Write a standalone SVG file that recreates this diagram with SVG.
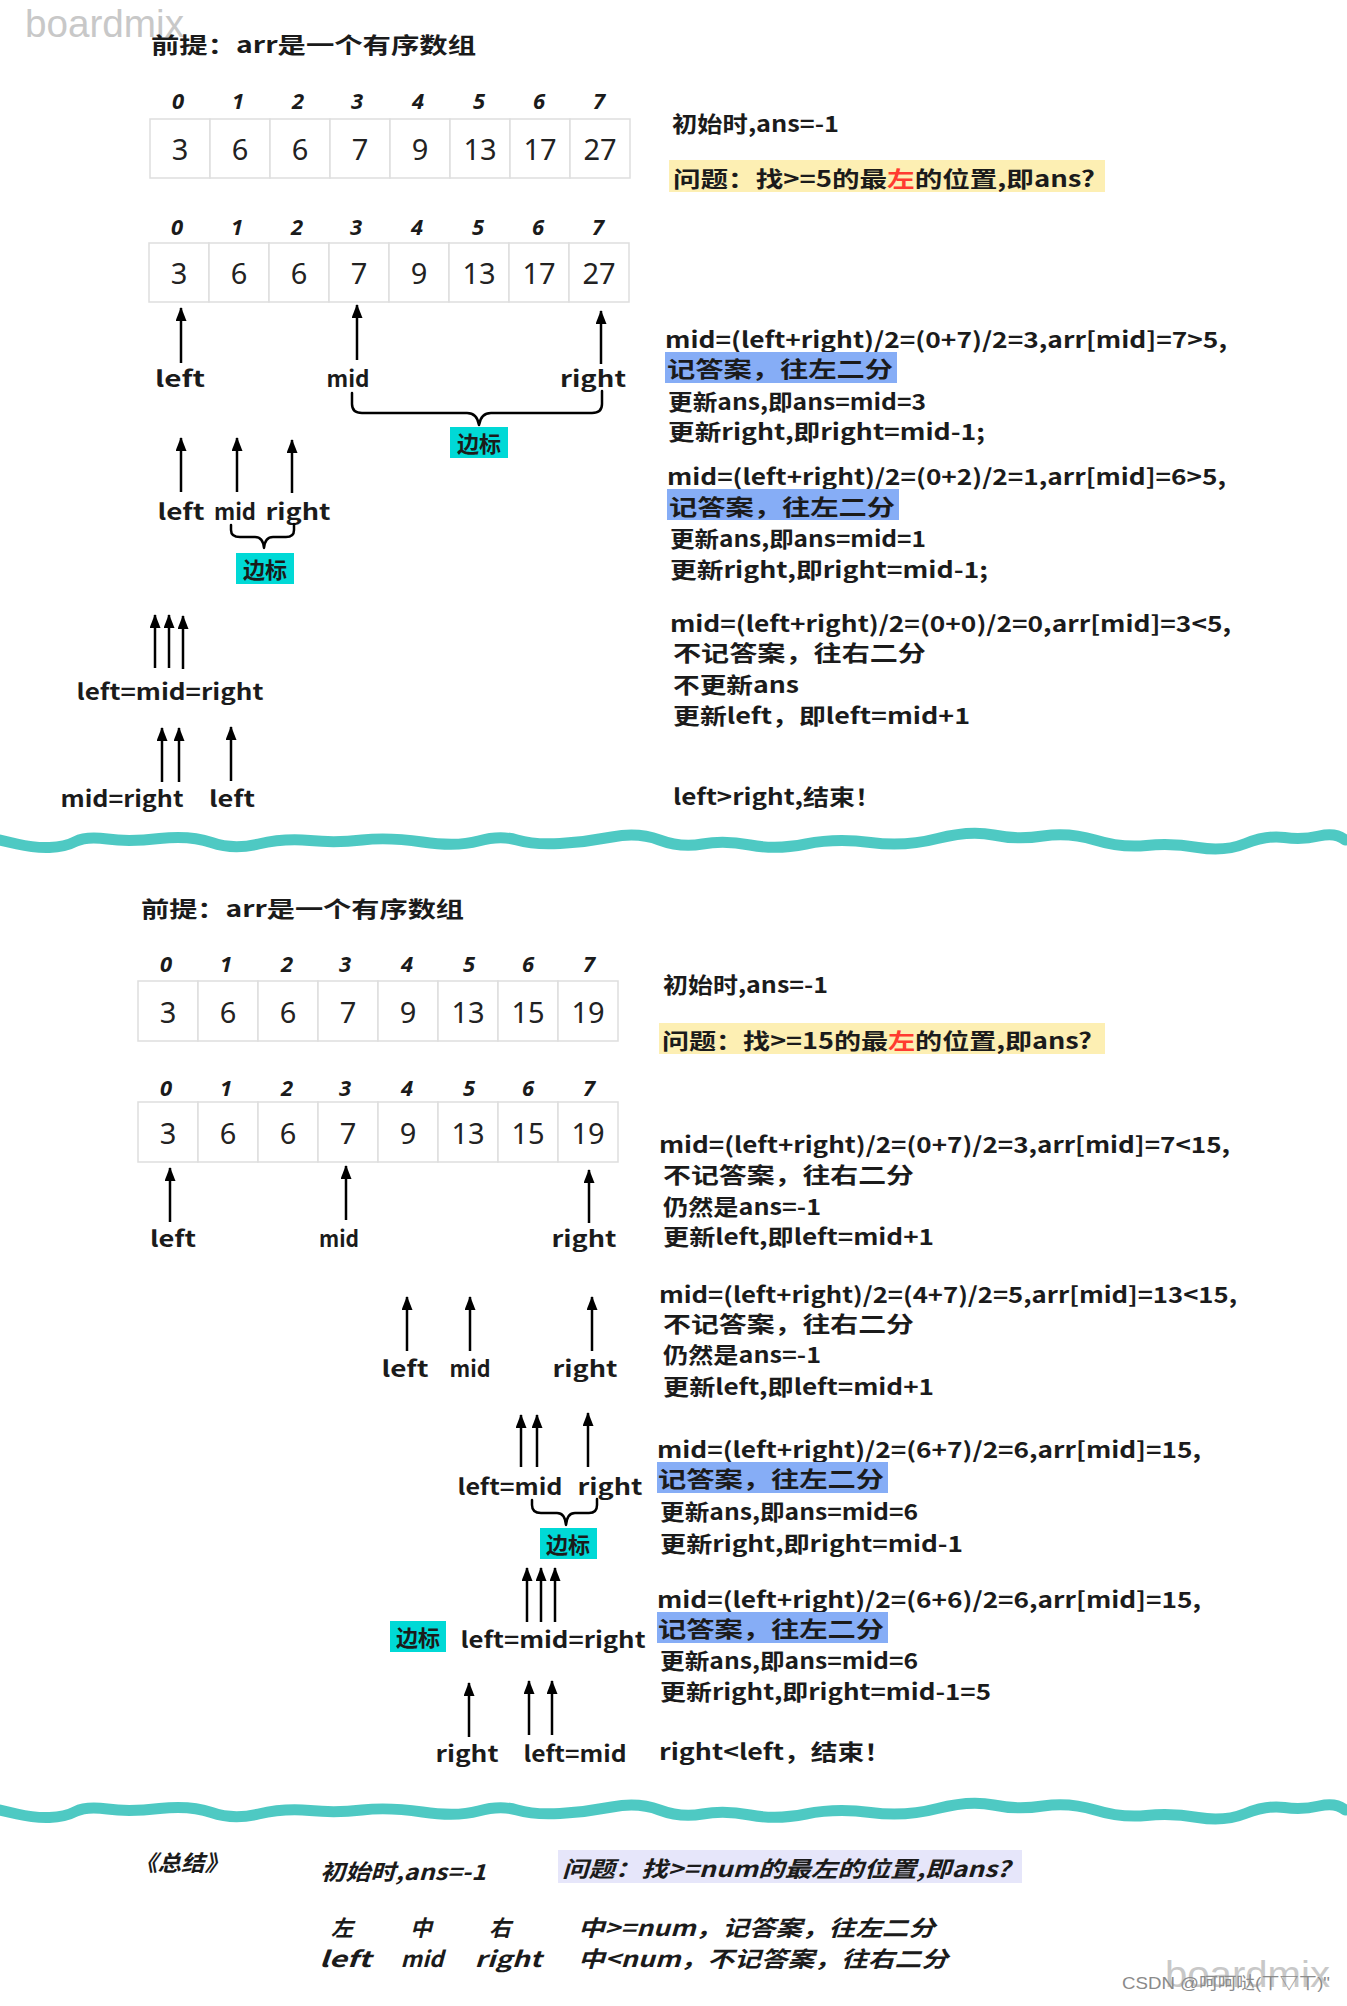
<svg xmlns="http://www.w3.org/2000/svg" width="1347" height="2006" viewBox="0 0 1347 2006">
<style>
.hw{font-family:"Noto Sans CJK SC","Noto Sans",sans-serif;font-weight:700;font-size:22px;fill:#1b1b1b;dominant-baseline:central}
.lbl{font-family:"Noto Sans CJK SC","Noto Sans",sans-serif;font-weight:700;font-size:22px;fill:#1b1b1b;dominant-baseline:central;text-anchor:middle}
.idx{font-family:"Noto Sans","Liberation Sans",sans-serif;font-weight:700;font-style:italic;font-size:22px;fill:#1b1b1b;dominant-baseline:central;text-anchor:middle}
.num{font-family:"Noto Sans","Liberation Sans",sans-serif;font-size:29px;fill:#222;dominant-baseline:central;text-anchor:middle}
.cell{fill:#fff;stroke:#dedede;stroke-width:1.5}
.sum{font-style:italic}
.ar{stroke:#000;stroke-width:2.5;fill:none;marker-end:url(#ah)}
.br{stroke:#000;stroke-width:2.5;fill:none;stroke-linecap:round;stroke-linejoin:round}
.cy{fill:#00d9d6}
.bl{fill:#86adf6}
.ye{fill:#fdefb3}
.red{fill:#ff3b30}
.wave{fill:none;stroke:#3fc4be;stroke-width:11;stroke-linecap:round;stroke-linejoin:round;opacity:.92}
.wm{font-family:"Liberation Sans",sans-serif;fill:#c8c8c8}
</style>
<defs>
<marker id="ah" markerUnits="userSpaceOnUse" markerWidth="15" markerHeight="12" refX="13" refY="5.5" orient="auto">
<path d="M0,0 L14,5.5 L0,11 z" fill="#000"/>
</marker>
<path id="wv" class="wave" d="M0,840 L17,844 Q34,848 49.5,847.5 Q65,847 75.5,841.5 Q86,836 107.5,839 Q129,842 159.5,838.5 Q190,835 211.5,842.5 Q233,850 258.5,844 Q284,838 310,840.5 Q336,843 362,840 Q388,837 422.5,842 Q457,847 478.5,841 Q500,835 517,840 Q534,845 560,843.5 Q586,842 612,837 Q638,832 659.5,840 Q681,848 702.5,844 Q724,840 750,845 Q776,850 806,844 Q836,838 870.5,842.5 Q905,847 937.5,838.5 Q970,830 993.5,835 Q1017,840 1043,836 Q1069,832 1095,840 Q1121,848 1146.5,845.5 Q1172,843 1198,847.5 Q1224,852 1245.5,843.5 Q1267,835 1284.5,837.5 Q1302,840 1319,836 Q1336,832 1345,840"/>
</defs>
<rect width="1347" height="2006" fill="#fff"/>

<text class="wm" x="25" y="37" font-size="38" textLength="159" lengthAdjust="spacingAndGlyphs">boardmix</text>

<!-- ===== Section 1 ===== -->
<g id="title1"><text class="hw" x="151" y="43" font-size="24" textLength="325" lengthAdjust="spacingAndGlyphs">前提：arr是一个有序数组</text></g>

<g id="array1">
<text class="idx" x="178" y="100">0</text><text class="idx" x="238" y="100">1</text><text class="idx" x="298" y="100">2</text><text class="idx" x="357" y="100">3</text><text class="idx" x="418" y="100">4</text><text class="idx" x="479" y="100">5</text><text class="idx" x="539" y="100">6</text><text class="idx" x="599" y="100">7</text>
<rect class="cell" x="150" y="119" width="60" height="59"/><rect class="cell" x="210" y="119" width="60" height="59"/><rect class="cell" x="270" y="119" width="60" height="59"/><rect class="cell" x="330" y="119" width="60" height="59"/><rect class="cell" x="390" y="119" width="60" height="59"/><rect class="cell" x="450" y="119" width="60" height="59"/><rect class="cell" x="510" y="119" width="60" height="59"/><rect class="cell" x="570" y="119" width="60" height="59"/>
<text class="num" x="180" y="148">3</text><text class="num" x="240" y="148">6</text><text class="num" x="300" y="148">6</text><text class="num" x="360" y="148">7</text><text class="num" x="420" y="148">9</text><text class="num" x="480" y="148">13</text><text class="num" x="540" y="148">17</text><text class="num" x="600" y="148">27</text>
</g>

<g id="array2">
<text class="idx" x="177" y="226">0</text><text class="idx" x="237" y="226">1</text><text class="idx" x="297" y="226">2</text><text class="idx" x="356" y="226">3</text><text class="idx" x="417" y="226">4</text><text class="idx" x="478" y="226">5</text><text class="idx" x="538" y="226">6</text><text class="idx" x="598" y="226">7</text>
<rect class="cell" x="149" y="243" width="60" height="59"/><rect class="cell" x="209" y="243" width="60" height="59"/><rect class="cell" x="269" y="243" width="60" height="59"/><rect class="cell" x="329" y="243" width="60" height="59"/><rect class="cell" x="389" y="243" width="60" height="59"/><rect class="cell" x="449" y="243" width="60" height="59"/><rect class="cell" x="509" y="243" width="60" height="59"/><rect class="cell" x="569" y="243" width="60" height="59"/>
<text class="num" x="179" y="272">3</text><text class="num" x="239" y="272">6</text><text class="num" x="299" y="272">6</text><text class="num" x="359" y="272">7</text><text class="num" x="419" y="272">9</text><text class="num" x="479" y="272">13</text><text class="num" x="539" y="272">17</text><text class="num" x="599" y="272">27</text>
</g>

<g id="labels1a">
<text class="lbl" x="180" y="377" textLength="50" lengthAdjust="spacingAndGlyphs">left</text>
<text class="lbl" x="348" y="377" textLength="43" lengthAdjust="spacingAndGlyphs">mid</text>
<text class="lbl" x="593" y="377" textLength="66" lengthAdjust="spacingAndGlyphs">right</text>
</g>
<g id="tag1"><rect class="cy" x="450" y="427" width="58" height="31"/><text class="lbl" x="479" y="442">边标</text></g>

<g id="labels1b">
<text class="lbl" x="181" y="510" textLength="47" lengthAdjust="spacingAndGlyphs">left</text>
<text class="lbl" x="235" y="510" textLength="42" lengthAdjust="spacingAndGlyphs">mid</text>
<text class="lbl" x="298" y="510" textLength="65" lengthAdjust="spacingAndGlyphs">right</text>
</g>
<g id="tag2"><rect class="cy" x="236" y="553" width="58" height="31"/><text class="lbl" x="265" y="568">边标</text></g>

<g id="labels1c"><text class="lbl" x="170" y="690" textLength="187" lengthAdjust="spacingAndGlyphs">left=mid=right</text></g>
<g id="labels1d">
<text class="lbl" x="122" y="797" textLength="123" lengthAdjust="spacingAndGlyphs">mid=right</text>
<text class="lbl" x="232" y="797" textLength="46" lengthAdjust="spacingAndGlyphs">left</text>
</g>

<g id="notes1">
<text class="hw" x="672" y="122" textLength="167" lengthAdjust="spacingAndGlyphs">初始时,ans=-1</text>
<rect class="ye" x="669" y="160" width="436" height="32"/>
<text class="hw" x="673" y="177" textLength="422" lengthAdjust="spacingAndGlyphs">问题：找&gt;=5的最<tspan class="red">左</tspan>的位置,即ans?</text>
<text class="hw" x="665" y="338" textLength="562" lengthAdjust="spacingAndGlyphs">mid=(left+right)/2=(0+7)/2=3,arr[mid]=7&gt;5,</text>
<rect class="bl" x="665" y="352" width="232" height="31"/>
<text class="hw" x="667" y="367" textLength="226" lengthAdjust="spacingAndGlyphs">记答案，往左二分</text>
<text class="hw" x="668" y="400" textLength="258" lengthAdjust="spacingAndGlyphs">更新ans,即ans=mid=3</text>
<text class="hw" x="668" y="430" textLength="317" lengthAdjust="spacingAndGlyphs">更新right,即right=mid-1;</text>

<text class="hw" x="667" y="475" textLength="559" lengthAdjust="spacingAndGlyphs">mid=(left+right)/2=(0+2)/2=1,arr[mid]=6&gt;5,</text>
<rect class="bl" x="667" y="489" width="232" height="31"/>
<text class="hw" x="669" y="505" textLength="226" lengthAdjust="spacingAndGlyphs">记答案，往左二分</text>
<text class="hw" x="670" y="537" textLength="256" lengthAdjust="spacingAndGlyphs">更新ans,即ans=mid=1</text>
<text class="hw" x="670" y="568" textLength="318" lengthAdjust="spacingAndGlyphs">更新right,即right=mid-1;</text>

<text class="hw" x="670" y="622" textLength="561" lengthAdjust="spacingAndGlyphs">mid=(left+right)/2=(0+0)/2=0,arr[mid]=3&lt;5,</text>
<text class="hw" x="673" y="651" textLength="253" lengthAdjust="spacingAndGlyphs">不记答案，往右二分</text>
<text class="hw" x="673" y="683" textLength="126" lengthAdjust="spacingAndGlyphs">不更新ans</text>
<text class="hw" x="673" y="714" textLength="297" lengthAdjust="spacingAndGlyphs">更新left，即left=mid+1</text>
<text class="hw" x="673" y="795" textLength="208" lengthAdjust="spacingAndGlyphs">left&gt;right,结束！</text>
</g>

<g id="divider1"><use href="#wv"/></g>

<!-- ===== Section 2 ===== -->
<g id="title2"><text class="hw" x="141" y="907" font-size="24" textLength="323" lengthAdjust="spacingAndGlyphs">前提：arr是一个有序数组</text></g>

<g id="array3">
<text class="idx" x="166" y="963">0</text><text class="idx" x="226" y="963">1</text><text class="idx" x="287" y="963">2</text><text class="idx" x="345" y="963">3</text><text class="idx" x="407" y="963">4</text><text class="idx" x="469" y="963">5</text><text class="idx" x="528" y="963">6</text><text class="idx" x="589" y="963">7</text>
<rect class="cell" x="138" y="981" width="60" height="60"/><rect class="cell" x="198" y="981" width="60" height="60"/><rect class="cell" x="258" y="981" width="60" height="60"/><rect class="cell" x="318" y="981" width="60" height="60"/><rect class="cell" x="378" y="981" width="60" height="60"/><rect class="cell" x="438" y="981" width="60" height="60"/><rect class="cell" x="498" y="981" width="60" height="60"/><rect class="cell" x="558" y="981" width="60" height="60"/>
<text class="num" x="168" y="1011">3</text><text class="num" x="228" y="1011">6</text><text class="num" x="288" y="1011">6</text><text class="num" x="348" y="1011">7</text><text class="num" x="408" y="1011">9</text><text class="num" x="468" y="1011">13</text><text class="num" x="528" y="1011">15</text><text class="num" x="588" y="1011">19</text>
</g>

<g id="array4">
<text class="idx" x="166" y="1087">0</text><text class="idx" x="226" y="1087">1</text><text class="idx" x="287" y="1087">2</text><text class="idx" x="345" y="1087">3</text><text class="idx" x="407" y="1087">4</text><text class="idx" x="469" y="1087">5</text><text class="idx" x="528" y="1087">6</text><text class="idx" x="589" y="1087">7</text>
<rect class="cell" x="138" y="1102" width="60" height="60"/><rect class="cell" x="198" y="1102" width="60" height="60"/><rect class="cell" x="258" y="1102" width="60" height="60"/><rect class="cell" x="318" y="1102" width="60" height="60"/><rect class="cell" x="378" y="1102" width="60" height="60"/><rect class="cell" x="438" y="1102" width="60" height="60"/><rect class="cell" x="498" y="1102" width="60" height="60"/><rect class="cell" x="558" y="1102" width="60" height="60"/>
<text class="num" x="168" y="1132">3</text><text class="num" x="228" y="1132">6</text><text class="num" x="288" y="1132">6</text><text class="num" x="348" y="1132">7</text><text class="num" x="408" y="1132">9</text><text class="num" x="468" y="1132">13</text><text class="num" x="528" y="1132">15</text><text class="num" x="588" y="1132">19</text>
</g>

<g id="labels2a">
<text class="lbl" x="173" y="1237" textLength="46" lengthAdjust="spacingAndGlyphs">left</text>
<text class="lbl" x="339" y="1237" textLength="40" lengthAdjust="spacingAndGlyphs">mid</text>
<text class="lbl" x="584" y="1237" textLength="65" lengthAdjust="spacingAndGlyphs">right</text>
</g>
<g id="labels2b">
<text class="lbl" x="405" y="1367" textLength="47" lengthAdjust="spacingAndGlyphs">left</text>
<text class="lbl" x="470" y="1367" textLength="41" lengthAdjust="spacingAndGlyphs">mid</text>
<text class="lbl" x="585" y="1367" textLength="65" lengthAdjust="spacingAndGlyphs">right</text>
</g>
<g id="labels2c">
<text class="lbl" x="510" y="1485" textLength="105" lengthAdjust="spacingAndGlyphs">left=mid</text>
<text class="lbl" x="610" y="1485" textLength="65" lengthAdjust="spacingAndGlyphs">right</text>
</g>
<g id="tag3"><rect class="cy" x="540" y="1528" width="57" height="31"/><text class="lbl" x="568" y="1543">边标</text></g>
<g id="tag4"><rect class="cy" x="390" y="1621" width="56" height="31"/><text class="lbl" x="418" y="1636">边标</text></g>
<g id="labels2d"><text class="lbl" x="553" y="1638" textLength="185" lengthAdjust="spacingAndGlyphs">left=mid=right</text></g>
<g id="labels2e">
<text class="lbl" x="467" y="1752" textLength="63" lengthAdjust="spacingAndGlyphs">right</text>
<text class="lbl" x="575" y="1752" textLength="103" lengthAdjust="spacingAndGlyphs">left=mid</text>
</g>

<g id="notes2">
<text class="hw" x="663" y="983" textLength="165" lengthAdjust="spacingAndGlyphs">初始时,ans=-1</text>
<rect class="ye" x="659" y="1023" width="446" height="31"/>
<text class="hw" x="662" y="1039" textLength="430" lengthAdjust="spacingAndGlyphs">问题：找&gt;=15的最<tspan class="red">左</tspan>的位置,即ans?</text>
<text class="hw" x="659" y="1143" textLength="571" lengthAdjust="spacingAndGlyphs">mid=(left+right)/2=(0+7)/2=3,arr[mid]=7&lt;15,</text>
<text class="hw" x="663" y="1173" textLength="251" lengthAdjust="spacingAndGlyphs">不记答案，往右二分</text>
<text class="hw" x="663" y="1205" textLength="158" lengthAdjust="spacingAndGlyphs">仍然是ans=-1</text>
<text class="hw" x="663" y="1235" textLength="271" lengthAdjust="spacingAndGlyphs">更新left,即left=mid+1</text>

<text class="hw" x="659" y="1293" textLength="578" lengthAdjust="spacingAndGlyphs">mid=(left+right)/2=(4+7)/2=5,arr[mid]=13&lt;15,</text>
<text class="hw" x="663" y="1322" textLength="251" lengthAdjust="spacingAndGlyphs">不记答案，往右二分</text>
<text class="hw" x="663" y="1353" textLength="158" lengthAdjust="spacingAndGlyphs">仍然是ans=-1</text>
<text class="hw" x="663" y="1385" textLength="271" lengthAdjust="spacingAndGlyphs">更新left,即left=mid+1</text>

<text class="hw" x="657" y="1448" textLength="544" lengthAdjust="spacingAndGlyphs">mid=(left+right)/2=(6+7)/2=6,arr[mid]=15,</text>
<rect class="bl" x="657" y="1462" width="231" height="31"/>
<text class="hw" x="658" y="1477" textLength="226" lengthAdjust="spacingAndGlyphs">记答案，往左二分</text>
<text class="hw" x="660" y="1510" textLength="258" lengthAdjust="spacingAndGlyphs">更新ans,即ans=mid=6</text>
<text class="hw" x="660" y="1542" textLength="303" lengthAdjust="spacingAndGlyphs">更新right,即right=mid-1</text>

<text class="hw" x="657" y="1598" textLength="544" lengthAdjust="spacingAndGlyphs">mid=(left+right)/2=(6+6)/2=6,arr[mid]=15,</text>
<rect class="bl" x="657" y="1612" width="231" height="31"/>
<text class="hw" x="658" y="1627" textLength="226" lengthAdjust="spacingAndGlyphs">记答案，往左二分</text>
<text class="hw" x="660" y="1659" textLength="258" lengthAdjust="spacingAndGlyphs">更新ans,即ans=mid=6</text>
<text class="hw" x="660" y="1690" textLength="331" lengthAdjust="spacingAndGlyphs">更新right,即right=mid-1=5</text>

<text class="hw" x="659" y="1750" textLength="232" lengthAdjust="spacingAndGlyphs">right&lt;left，结束！</text>
</g>

<g id="divider2"><use href="#wv" transform="translate(0,970)"/></g>

<!-- ===== Summary ===== -->
<g id="summary">
<text class="hw sum" x="134" y="1861" textLength="94" lengthAdjust="spacingAndGlyphs">《总结》</text>
<text class="hw sum" x="320" y="1870" textLength="166" lengthAdjust="spacingAndGlyphs">初始时,ans=-1</text>
<rect x="558" y="1850" width="464" height="33" fill="#e6e6fa"/>
<text class="hw sum" x="562" y="1867" textLength="448" lengthAdjust="spacingAndGlyphs">问题：找&gt;=num的最左的位置,即ans?</text>
<text class="lbl sum" x="342" y="1926">左</text>
<text class="lbl sum" x="421" y="1926">中</text>
<text class="lbl sum" x="500" y="1926">右</text>
<text class="lbl sum" x="345" y="1957" textLength="52" lengthAdjust="spacingAndGlyphs">left</text>
<text class="lbl sum" x="422" y="1957" textLength="43" lengthAdjust="spacingAndGlyphs">mid</text>
<text class="lbl sum" x="508" y="1957" textLength="67" lengthAdjust="spacingAndGlyphs">right</text>
<text class="hw sum" x="578" y="1926" textLength="357" lengthAdjust="spacingAndGlyphs">中&gt;=num，记答案，往左二分</text>
<text class="hw sum" x="578" y="1957" textLength="370" lengthAdjust="spacingAndGlyphs">中&lt;num，不记答案，往右二分</text>
</g>

<g id="watermark">
<text class="wm" x="1165" y="1987" font-size="36" textLength="165" lengthAdjust="spacingAndGlyphs">boardmix</text>
<text x="1122" y="1989" font-family="Liberation Sans,&quot;Noto Sans CJK SC&quot;,sans-serif" font-size="17" fill="#8a8a8a" textLength="208" lengthAdjust="spacingAndGlyphs">CSDN @呵呵哒(ㄒ▽ㄒ)"</text>
</g>

<!-- ===== Connectors ===== -->
<g id="connectors">
<line class="ar" x1="181" y1="363" x2="181" y2="308"/>
<line class="ar" x1="357" y1="360" x2="357" y2="305"/>
<line class="ar" x1="601" y1="364" x2="601" y2="311"/>
<path class="br" d="M352,393 L352,404 Q352,413 362,413 L467,413 Q477,413 479,425 Q481,413 491,413 L592,413 Q602,413 602,404 L602,391"/>

<line class="ar" x1="181" y1="492" x2="181" y2="438"/>
<line class="ar" x1="237" y1="492" x2="237" y2="438"/>
<line class="ar" x1="292" y1="493" x2="292" y2="440"/>
<path class="br" d="M231,525 L231,530 Q231,537 240,537 L255,537 Q263,537 264,548 Q265,537 273,537 L286,537 Q294,537 294,530 L294,524"/>

<line class="ar" x1="155" y1="668" x2="155" y2="615"/>
<line class="ar" x1="169" y1="668" x2="169" y2="615"/>
<line class="ar" x1="183" y1="669" x2="183" y2="616"/>

<line class="ar" x1="162" y1="782" x2="162" y2="728"/>
<line class="ar" x1="179" y1="782" x2="179" y2="728"/>
<line class="ar" x1="231" y1="781" x2="231" y2="727"/>

<line class="ar" x1="170" y1="1222" x2="170" y2="1168"/>
<line class="ar" x1="346" y1="1220" x2="346" y2="1166"/>
<line class="ar" x1="589" y1="1223" x2="589" y2="1170"/>

<line class="ar" x1="407" y1="1351" x2="407" y2="1297"/>
<line class="ar" x1="470" y1="1351" x2="470" y2="1297"/>
<line class="ar" x1="592" y1="1351" x2="592" y2="1297"/>

<line class="ar" x1="521" y1="1467" x2="521" y2="1415"/>
<line class="ar" x1="537" y1="1467" x2="537" y2="1415"/>
<line class="ar" x1="588" y1="1467" x2="588" y2="1413"/>
<path class="br" d="M532,1500 L532,1505 Q532,1513 541,1513 L557,1513 Q565,1513 566,1525 Q567,1513 575,1513 L589,1513 Q597,1513 597,1505 L597,1499"/>

<line class="ar" x1="527" y1="1622" x2="527" y2="1568"/>
<line class="ar" x1="541" y1="1622" x2="541" y2="1568"/>
<line class="ar" x1="555" y1="1622" x2="555" y2="1568"/>

<line class="ar" x1="469" y1="1737" x2="469" y2="1683"/>
<line class="ar" x1="529" y1="1735" x2="529" y2="1681"/>
<line class="ar" x1="552" y1="1735" x2="552" y2="1681"/>
</g>
</svg>
